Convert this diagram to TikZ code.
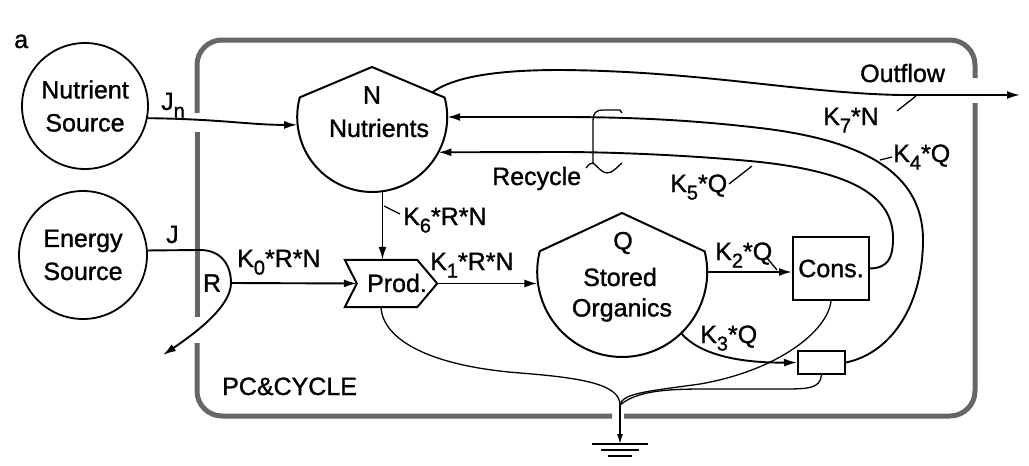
\documentclass[tikz,border=0pt]{standalone}
\usepackage{fontspec}
\setmainfont{Liberation Sans}[FakeBold=1.2]
\usetikzlibrary{arrows.meta,calc}
\newcommand\sbs[1]{\raisebox{-0.3em}{\fontsize{20}{20}\selectfont #1}}
\begin{document}
\begin{tikzpicture}[x=1pt,y=-1pt,
  every node/.style={font=\fontsize{25}{33}\selectfont, inner sep=0pt},
  flow/.style={line width=1.9pt},
  arr/.style={flow,-{Latex[length=13pt,width=8pt]}},
  thinline/.style={line width=1.3pt},
  tank/.style={line width=2pt},
  sys/.style={line width=5pt, draw=black!60},
  lbl/.style={anchor=base west},
  hub/.style={circle, draw=none, minimum size=#1, inner sep=0pt}
]
\useasboundingbox (0,0) rectangle (1029,466);

% system boundary
\draw[sys, rounded corners=25pt] (624,416) -- (975,416) -- (975,103);
\draw[sys, rounded corners=25pt] (975,78) -- (975,40) -- (197,40) -- (197,113);
\draw[sys] (197,132) -- (197,317);
\draw[sys, rounded corners=25pt] (197,343) -- (197,416) -- (612,416);

% sources
\node[circle, draw, line width=1.8pt, minimum size=126pt, align=center] (ns) at (85,106) {Nutrient\\Source};
\node[circle, draw, line width=1.8pt, minimum size=128pt, align=center] (es) at (83,255) {Energy\\Source};

% tank N
\node[hub=150pt] (N) at (372,117) {};
\coordinate (Napex) at (372,67);
\draw[tank] (N.165) -- (Napex) -- (N.15) arc[start angle=15, end angle=-195, radius=75pt];
\node (Nlab) at (372,95) {N};
\node (Nname) at (379,128) {Nutrients};

% tank Q
\node[hub=170pt] (Q) at (622,272) {};
\coordinate (Qapex) at (622,213);
\draw[tank] (Q.166) -- (Qapex) -- (Q.14) arc[start angle=14, end angle=-194, radius=85pt];
\node (Qlab) at (623,243) {Q};
\node (Qn1) at (620,277) {Stored};
\node (Qn2) at (622,310) {Organics};

% production
\node[minimum width=92pt, minimum height=47pt, draw=none] (prod) at (391,283.5) {};
\draw[tank] (prod.north west) -- ($(prod.north east)+(-20,0)$) -- (prod.east) -- ($(prod.south east)+(-20,0)$) -- (prod.south west) -- ($(prod.west)+(12,0)$) -- cycle;
\node (prodtxt) at (397,283) {Prod.};

% consumers
\node[draw, tank, minimum width=76pt, minimum height=63pt] (cons) at (831,268.5) {Cons.};
\node[draw, tank, minimum width=47pt, minimum height=23pt] (sb) at (821.5,362.5) {};

% flows
\draw[arr] (ns.-11) .. controls (220,119) and (250,125) .. (N.186);
\coordinate (R) at (231,283);
\coordinate (eout) at (163,355);
\draw[arr] (es.4) -- (200,250) .. controls (222,250) and (231,266) .. (R) .. controls (231,305) and (200,330) .. (eout);
\draw[arr] (R) -- ($(prod.west)+(12,0)$);
\draw[arr] (N.-82) -- (N.-82 |- prod.north);
\draw[arr] (prod.east) -- (prod.east -| Q.187);
\draw[arr] (Q.east) -- (Q.east -| cons.west);
\draw[arr] (Q.-46) .. controls (700,355) and (740,363) .. (sb.west);
\draw[arr] (sb.east) .. controls (895,352) and (923,300) .. (923,240) .. controls (923,172) and (862,140) .. (760,128) .. controls (700,121) and (640,117) .. (560,117) -- (N.east);
\draw[arr] (cons.east) .. controls (888,268) and (893,258) .. (893,238) .. controls (893,195) and (850,172) .. (760,162) .. controls (700,156) and (620,152) .. (560,152) -- (N.-28);
\coordinate (Nout) at ($(Napex)!0.83!(N.15)$);
\coordinate (out) at (1020,95);
\draw[arr] (Nout) .. controls (455,76) and (500,70) .. (560,70) .. controls (700,71) and (800,93) .. (900,95) -- (out);

% heat sinks
\coordinate (sink) at (620,405);
\coordinate (gnd) at (620,444);
\draw[thinline] ($(prod.south)+(-10,0)$) .. controls (383,340) and (430,366) .. (520,373) .. controls (585,378) and (620,385) .. (sink);
\draw[thinline] (cons.south) .. controls (828,330) and (780,370) .. (700,384) .. controls (650,391) and (622,393) .. (sink);
\draw[thinline] (sb.south) .. controls (820,389) and (808,389) .. (780,389) -- (720,389) .. controls (680,389) and (640,388) .. (sink);
\draw[thinline, -{Latex[length=10pt,width=6pt]}] (sink) -- (gnd);
\draw[thinline] (592,444) -- (648,444) (601,450) -- (639,450) (608,456) -- (632,456);

% labels
\node[lbl] (a) at (14,48) {a};
\node[lbl] (jn) at (161,110) {J\sbs{n}};
\node[lbl] (j) at (166,243) {J};
\node (r) at (212,283) {R};
\node[lbl] (k0) at (237,267) {K\sbs{0}*R*N};
\node[lbl] (k6) at (403,225) {K\sbs{6}*R*N};
\node[lbl] (k1) at (430,270) {K\sbs{1}*R*N};
\node[lbl] (k2) at (715,260) {K\sbs{2}*Q};
\node[lbl] (k3) at (700,343) {K\sbs{3}*Q};
\node[lbl] (k4) at (893,162) {K\sbs{4}*Q};
\node[lbl] (k5) at (670,192) {K\sbs{5}*Q};
\node[lbl] (k7) at (823,125) {K\sbs{7}*N};
\node[lbl] (outl) at (860,82) {Outflow};
\node[lbl] (rec) at (492,185) {Recycle};
\node[lbl] (pc) at (222,395) {PC\&CYCLE};

% leaders
\draw[thinline] (384,206) -- (400,214);
\draw[thinline] (897,111) -- (916,96);
\draw[thinline] (880,160) -- (892,157);
\draw[thinline] (729,184) -- (752,166);
\draw[thinline] (767,258) -- (777,270);

% recycle brace
\draw[thinline] (622,113) -- (620,110) -- (602,110) .. controls (596,110) and (593,114) .. (593,120) -- (593,163);
\draw[thinline] (586,168) .. controls (589,164) and (591,163) .. (593,163) .. controls (597,166) and (602,173) .. (607,173) .. controls (613,173) and (618,166) .. (622,163);
\end{tikzpicture}
\end{document}
